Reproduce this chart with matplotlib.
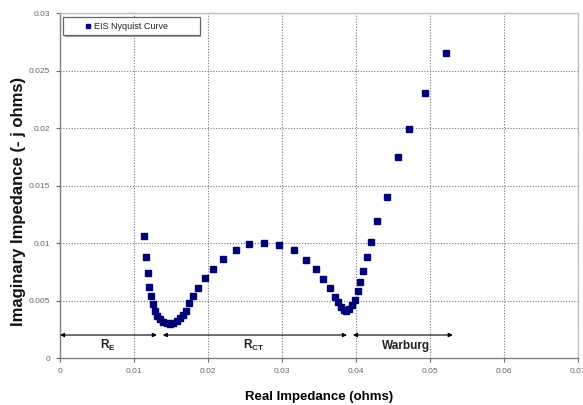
import matplotlib.pyplot as plt
from matplotlib.ticker import FixedLocator
from matplotlib.patches import Rectangle

plt.rcParams['font.family'] = ['Liberation Sans', 'DejaVu Sans']
plt.rcParams['mathtext.fontset'] = 'custom'
plt.rcParams['mathtext.rm'] = 'Liberation Sans'
plt.rcParams['mathtext.bf'] = 'Liberation Sans:bold'

# Nyquist data: real part vs. negative imaginary part (ohms)
re_z = [0.01141, 0.01160, 0.01187, 0.01209, 0.01231, 0.01258, 0.01286, 0.01317,
        0.01353, 0.01398, 0.01443, 0.01488, 0.01534, 0.01579, 0.01624, 0.01669,
        0.01705, 0.01750, 0.01804, 0.01872, 0.01962, 0.02066, 0.02201, 0.02373,
        0.02555, 0.02760, 0.02963, 0.03157, 0.03320, 0.03464, 0.03559, 0.03649,
        0.03717, 0.03757, 0.03798, 0.03834, 0.03870, 0.03906, 0.03942, 0.03990,
        0.04030, 0.04062, 0.04100, 0.04150, 0.04200, 0.04290, 0.04425, 0.04565,
        0.04718, 0.04930, 0.05223]
im_z = [0.01061, 0.00880, 0.00736, 0.00620, 0.00536, 0.00470, 0.00411, 0.00368,
        0.00336, 0.00313, 0.00302, 0.00298, 0.00307, 0.00324, 0.00345, 0.00374,
        0.00409, 0.00476, 0.00539, 0.00611, 0.00693, 0.00777, 0.00861, 0.00937,
        0.00989, 0.01003, 0.00983, 0.00936, 0.00855, 0.00774, 0.00684, 0.00606,
        0.00533, 0.00484, 0.00443, 0.00417, 0.00409, 0.00426, 0.00461, 0.00502,
        0.00583, 0.00658, 0.00757, 0.00877, 0.01011, 0.01191, 0.01403, 0.01750,
        0.01994, 0.02301, 0.02650]

# regions along the real axis: (start, end, label, label x)
regions = [(0.0, 0.0131, r'$\mathbf{R_{E}}$', 0.0065),
           (0.0139, 0.0388, r'$\mathbf{R_{CT}}$', 0.0262),
           (0.0396, 0.0531, 'Warburg', 0.0468)]
arrow_y = 0.002

fig = plt.figure(figsize=(5.83, 4.05), dpi=100)
ax = fig.add_axes([0.1029, 0.1160, 0.8881, 0.8519])

ax.plot(re_z, im_z, linestyle='none', marker='s', markersize=3.8,
        color='#000075')

for x0, x1, txt, xt in regions:
    ax.annotate('', xy=(x1, arrow_y), xytext=(x0, arrow_y),
                arrowprops=dict(arrowstyle='<|-|>', color='black', lw=0.8,
                                mutation_scale=6, shrinkA=0, shrinkB=0))
    ax.text(xt, 0.00105, txt, ha='center', va='center', fontsize=8.5,
            fontweight='bold', color='#222222')

ax.set_xlim(0, 0.07)
ax.set_ylim(0, 0.03)
ax.xaxis.set_major_locator(FixedLocator([0, 0.01, 0.02, 0.03, 0.04, 0.05, 0.06, 0.07]))
ax.yaxis.set_major_locator(FixedLocator([0, 0.005, 0.01, 0.015, 0.02, 0.025, 0.03]))
ax.set_xticklabels(['0', '0.01', '0.02', '0.03', '0.04', '0.05', '0.06', '0.07'])
ax.set_yticklabels(['0', '0.005', '0.01', '0.015', '0.02', '0.025', '0.03'])
ax.tick_params(labelsize=6, colors='#666666', length=3, width=0.8, pad=4)

ax.grid(True, linestyle=(0, (1, 1.5)), color='#777777', linewidth=0.8)
for side in ['left', 'bottom']:
    ax.spines[side].set_color('#808080')
    ax.spines[side].set_linewidth(1.0)
for side in ['top', 'right']:
    ax.spines[side].set_color('#c0c0c0')
    ax.spines[side].set_linewidth(1.0)

ax.set_xlabel('Real Impedance (ohms)', fontsize=9.5, fontweight='bold', labelpad=12)
ax.set_ylabel('Imaginary Impedance (- j ohms)', fontsize=12, fontweight='bold',
              color='#111111')
ax.yaxis.set_label_coords(-0.066, 0.455)

# legend box with drop shadow, drawn in axes fraction
ax.add_patch(Rectangle((0.009, 0.930), 0.264, 0.052, transform=ax.transAxes,
                       facecolor='#9a9a9a', edgecolor='none', zorder=4))
ax.add_patch(Rectangle((0.006, 0.936), 0.264, 0.052, transform=ax.transAxes,
                       facecolor='white', edgecolor='#666666', linewidth=0.9, zorder=5))
ax.plot([0.054], [0.962], transform=ax.transAxes, marker='s', markersize=3.4,
        color='#000075', linestyle='none', zorder=6, clip_on=False)
ax.text(0.065, 0.962, 'EIS Nyquist Curve', transform=ax.transAxes, fontsize=6.5,
        va='center', ha='left', color='#222222', zorder=6)

fig.savefig('out.png', dpi=100)
